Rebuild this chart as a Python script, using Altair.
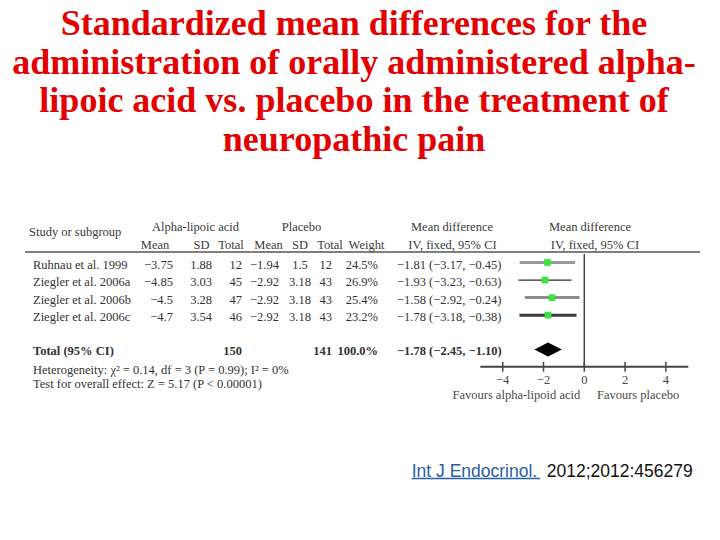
import altair as alt
import pandas as pd

# ---------------- data ----------------
title_lines = [
    "Standardized mean differences for the",
    "administration of orally administered alpha-",
    "lipoic acid vs. placebo in the treatment of",
    "neuropathic pain",
]
studies = ["Ruhnau et al. 1999", "Ziegler et al. 2006a", "Ziegler et al. 2006b", "Ziegler et al. 2006c"]
ala_mean = [-3.75, -4.85, -4.5, -4.7]
ala_sd = [1.88, 3.03, 3.28, 3.54]
ala_n = [12, 45, 47, 46]
pl_mean = [-1.94, -2.92, -2.92, -2.92]
pl_sd = [1.5, 3.18, 3.18, 3.18]
pl_n = [12, 43, 43, 43]
weights = [24.5, 26.9, 25.4, 23.2]
md = [-1.81, -1.93, -1.58, -1.78]
ci_lo = [-3.17, -3.23, -2.92, -3.18]
ci_hi = [-0.45, -0.63, -0.24, -0.38]
total_md, total_lo, total_hi = -1.78, -2.45, -1.10
total_ala_n, total_pl_n, total_weight = 150, 141, 100.0
heterogeneity = "Heterogeneity: χ² = 0.14, df = 3 (P = 0.99); I² = 0%"
overall = "Test for overall effect: Z = 5.17 (P < 0.00001)"
ticks = [-4, -2, 0, 2, 4]
fav_left = "Favours alpha-lipoid acid"
fav_right = "Favours placebo"
cite_link = "Int J Endocrinol."
cite_rest = "2012;2012:456279"

# ---------------- helpers ----------------
SERIF = "Liberation Serif"
SANS = "Liberation Sans"
TXT = "#333333"
TOP = 10  # top padding; all vertical pixel positions below are shifted by it


def num(v):
    return f"{v:g}".replace("-", "−")


def ci(m, lo, hi):
    return f"{m:.2f} ({lo:.2f}, {hi:.2f})".replace("-", "−")


YS = alt.Scale(domain=[-3, 8], range=[201.85 - TOP, 394.9 - TOP], nice=False, zero=False)
XS = alt.Scale(domain=[-5.1, 5.1], range=[472.3, 680.3], nice=False, zero=False)

rows = pd.DataFrame({
    "row": list(range(len(studies))),
    "study": studies,
    "am": [num(v) for v in ala_mean],
    "asd": [num(v) for v in ala_sd],
    "an": [str(v) for v in ala_n],
    "pm": [num(v) for v in pl_mean],
    "psd": [num(v) for v in pl_sd],
    "pn": [str(v) for v in pl_n],
    "w": [f"{v:.1f}%" for v in weights],
    "ci": [ci(m, l, h) for m, l, h in zip(md, ci_lo, ci_hi)],
    "md": md, "lo": ci_lo, "hi": ci_hi,
})
TOTAL_ROW = 4.96
tot = pd.DataFrame({
    "row": [TOTAL_ROW],
    "label": ["Total (95% CI)"],
    "an": [str(total_ala_n)],
    "pn": [str(total_pl_n)],
    "w": [f"{total_weight:.1f}%"],
    "ci": [ci(total_md, total_lo, total_hi)],
})


def text_layer(df, field, xpx, align, bold=False, size=12.5, color=TXT, dy=0, font=SERIF):
    return alt.Chart(df).mark_text(
        align=align, baseline="middle", font=font, fontSize=size,
        fontWeight="bold" if bold else "normal", color=color, dy=dy,
    ).encode(
        x=alt.value(xpx),
        y=alt.Y("row:Q", scale=YS, axis=None),
        text=alt.Text(f"{field}:N"),
    )


def label_layer(text, row, xpx, align, bold=False, size=12.5, color=TXT):
    df = pd.DataFrame({"row": [row], "t": [text]})
    return text_layer(df, "t", xpx, align, bold=bold, size=size, color=color)


layers = []

# ---- title ----
title_y = [27, 66, 104, 143]
for line, yy in zip(title_lines, title_y):
    layers.append(
        alt.Chart(pd.DataFrame({"t": [line]})).mark_text(
            align="center", baseline="alphabetic", font=SERIF, fontSize=36,
            fontWeight="bold", color="#e30000",
        ).encode(x=alt.value(346), y=alt.value(yy - TOP), text="t:N")
    )

# ---- headers ----
HC = "#3a3a3a"
layers += [
    label_layer("Study or subgroup", -1.71, 21, "left", color=HC),
    label_layer("Alpha-lipoic acid", -2, 187.5, "center", color=HC),
    label_layer("Placebo", -2, 293.5, "center", color=HC),
    label_layer("Mean difference", -2, 444, "center", color=HC),
    label_layer("Mean difference", -2, 582, "center", color=HC),
    label_layer("Mean", -1, 147, "center", color=HC),
    label_layer("SD", -1, 193.5, "center", color=HC),
    label_layer("Total", -1, 223, "center", color=HC),
    label_layer("Mean", -1, 260.5, "center", color=HC),
    label_layer("SD", -1, 292, "center", color=HC),
    label_layer("Total", -1, 322, "center", color=HC),
    label_layer("Weight", -1, 358.5, "center", color=HC),
    label_layer("IV, fixed, 95% CI", -1, 444.5, "center", color=HC),
    label_layer("IV, fixed, 95% CI", -1, 587, "center", color=HC),
]

# header rule
layers.append(
    alt.Chart(pd.DataFrame({"row": [-0.6]})).mark_rule(color="#555555", strokeWidth=1.5).encode(
        x=alt.value(17), x2=alt.value(692), y=alt.Y("row:Q", scale=YS, axis=None)
    )
)

# ---- study rows ----
DY = 2
layers += [
    text_layer(rows, "study", 25, "left", dy=DY),
    text_layer(rows, "am", 165, "right", dy=DY),
    text_layer(rows, "asd", 204, "right", dy=DY),
    text_layer(rows, "an", 234, "right", dy=DY),
    text_layer(rows, "pm", 271, "right", dy=DY),
    text_layer(rows, "psd", 292, "center", dy=DY),
    text_layer(rows, "pn", 324, "right", dy=DY),
    text_layer(rows, "w", 370, "right", dy=DY),
    text_layer(rows, "ci", 389, "left", dy=DY),
]

# ---- total row ----
layers += [
    text_layer(tot, "label", 25, "left", bold=True, dy=1),
    text_layer(tot, "an", 234, "right", bold=True, dy=1),
    text_layer(tot, "pn", 324, "right", bold=True, dy=1),
    text_layer(tot, "w", 370, "right", bold=True, dy=1),
    text_layer(tot, "ci", 389, "left", bold=True, dy=1),
]
layers += [
    label_layer(heterogeneity, 6.1, 25, "left"),
    label_layer(overall, 6.95, 25, "left"),
]

# ---- forest plot ----
AXIS_ROW = 5.94
# zero line
layers.append(
    alt.Chart(pd.DataFrame({"x": [0], "y": [-0.48], "y2": [AXIS_ROW]})).mark_rule(
        color="#444444", strokeWidth=1.5
    ).encode(
        x=alt.X("x:Q", scale=XS, axis=None),
        y=alt.Y("y:Q", scale=YS, axis=None),
        y2="y2:Q",
    )
)
# CI lines
ci_colors = ["#9a9a9a", "#2a2a2a", "#8c8c8c", "#3a3a3a"]
ci_widths = [3, 1.3, 3, 3]
layers.append(
    alt.Chart(rows).mark_rule().encode(
        x=alt.X("lo:Q", scale=XS, axis=None),
        x2="hi:Q",
        y=alt.Y("row:Q", scale=YS, axis=None),
        color=alt.Color("study:N", scale=alt.Scale(domain=studies, range=ci_colors), legend=None),
        strokeWidth=alt.StrokeWidth(
            "study:N", scale=alt.Scale(type="ordinal", domain=studies, range=ci_widths), legend=None
        ),
    )
)
# squares
layers.append(
    alt.Chart(rows).mark_square(size=45, color="#3ee43e", opacity=1).encode(
        x=alt.X("md:Q", scale=XS, axis=None),
        y=alt.Y("row:Q", scale=YS, axis=None),
    )
)
# diamond
diamond = pd.DataFrame({
    "x": [total_lo, total_md, total_hi],
    "y": [TOTAL_ROW, TOTAL_ROW - 0.4, TOTAL_ROW],
    "y2": [TOTAL_ROW, TOTAL_ROW + 0.4, TOTAL_ROW],
})
layers.append(
    alt.Chart(diamond).mark_area(color="black", orient="vertical", opacity=1).encode(
        x=alt.X("x:Q", scale=XS, axis=None),
        y=alt.Y("y:Q", scale=YS, axis=None),
        y2="y2:Q",
    )
)
# axis line
layers.append(
    alt.Chart(pd.DataFrame({"x": [XS.domain[0]], "x2": [XS.domain[1]], "y": [AXIS_ROW]})).mark_rule(
        color="#444444", strokeWidth=2
    ).encode(
        x=alt.X("x:Q", scale=XS, axis=None),
        x2="x2:Q",
        y=alt.Y("y:Q", scale=YS, axis=None),
    )
)
tick_df = pd.DataFrame({
    "x": ticks,
    "y": [AXIS_ROW - 0.28] * len(ticks),
    "y2": [AXIS_ROW + 0.28] * len(ticks),
    "lab": [num(t) for t in ticks],
    "row": [6.7] * len(ticks),
})
layers.append(
    alt.Chart(tick_df).mark_rule(color="#444444", strokeWidth=1.5).encode(
        x=alt.X("x:Q", scale=XS, axis=None),
        y=alt.Y("y:Q", scale=YS, axis=None),
        y2="y2:Q",
    )
)
layers.append(
    alt.Chart(tick_df).mark_text(font=SERIF, fontSize=12.5, color="#444444", baseline="middle").encode(
        x=alt.X("x:Q", scale=XS, axis=None),
        y=alt.Y("row:Q", scale=YS, axis=None),
        text="lab:N",
    )
)
fav = pd.DataFrame({"x": [-0.2, 0.62], "row": [7.55, 7.55], "t": [fav_left, fav_right]})
layers.append(
    alt.Chart(fav.iloc[[0]]).mark_text(font=SERIF, fontSize=12.5, color="#4a4a4a", align="right", baseline="middle").encode(
        x=alt.X("x:Q", scale=XS, axis=None), y=alt.Y("row:Q", scale=YS, axis=None), text="t:N"
    )
)
layers.append(
    alt.Chart(fav.iloc[[1]]).mark_text(font=SERIF, fontSize=12.5, color="#4a4a4a", align="left", baseline="middle").encode(
        x=alt.X("x:Q", scale=XS, axis=None), y=alt.Y("row:Q", scale=YS, axis=None), text="t:N"
    )
)

# ---- citation ----
BLUE = "#2a5f9e"
layers.append(
    alt.Chart(pd.DataFrame({"t": [cite_link]})).mark_text(
        font=SANS, fontSize=17.5, color=BLUE, align="left", baseline="alphabetic"
    ).encode(x=alt.value(403.7), y=alt.value(468.5 - TOP), text="t:N")
)
layers.append(
    alt.Chart(pd.DataFrame({"t": [cite_rest]})).mark_text(
        font=SANS, fontSize=17.5, color="#111111", align="left", baseline="alphabetic"
    ).encode(x=alt.value(538.7), y=alt.value(468.5 - TOP), text="t:N")
)
layers.append(
    alt.Chart(pd.DataFrame({"t": [cite_link]})).mark_rule(color=BLUE, strokeWidth=1.3).encode(
        x=alt.value(403.7), x2=alt.value(532), y=alt.value(470.5 - TOP)
    )
)

chart = alt.layer(*layers).properties(
    width=704, height=524 - TOP,
    padding={"top": TOP, "left": 0, "right": 0, "bottom": 0},
    autosize=alt.AutoSizeParams(type="none"),
).configure_view(stroke=None)

chart.save("out.html", embed_options={"renderer": "svg", "actions": False})
